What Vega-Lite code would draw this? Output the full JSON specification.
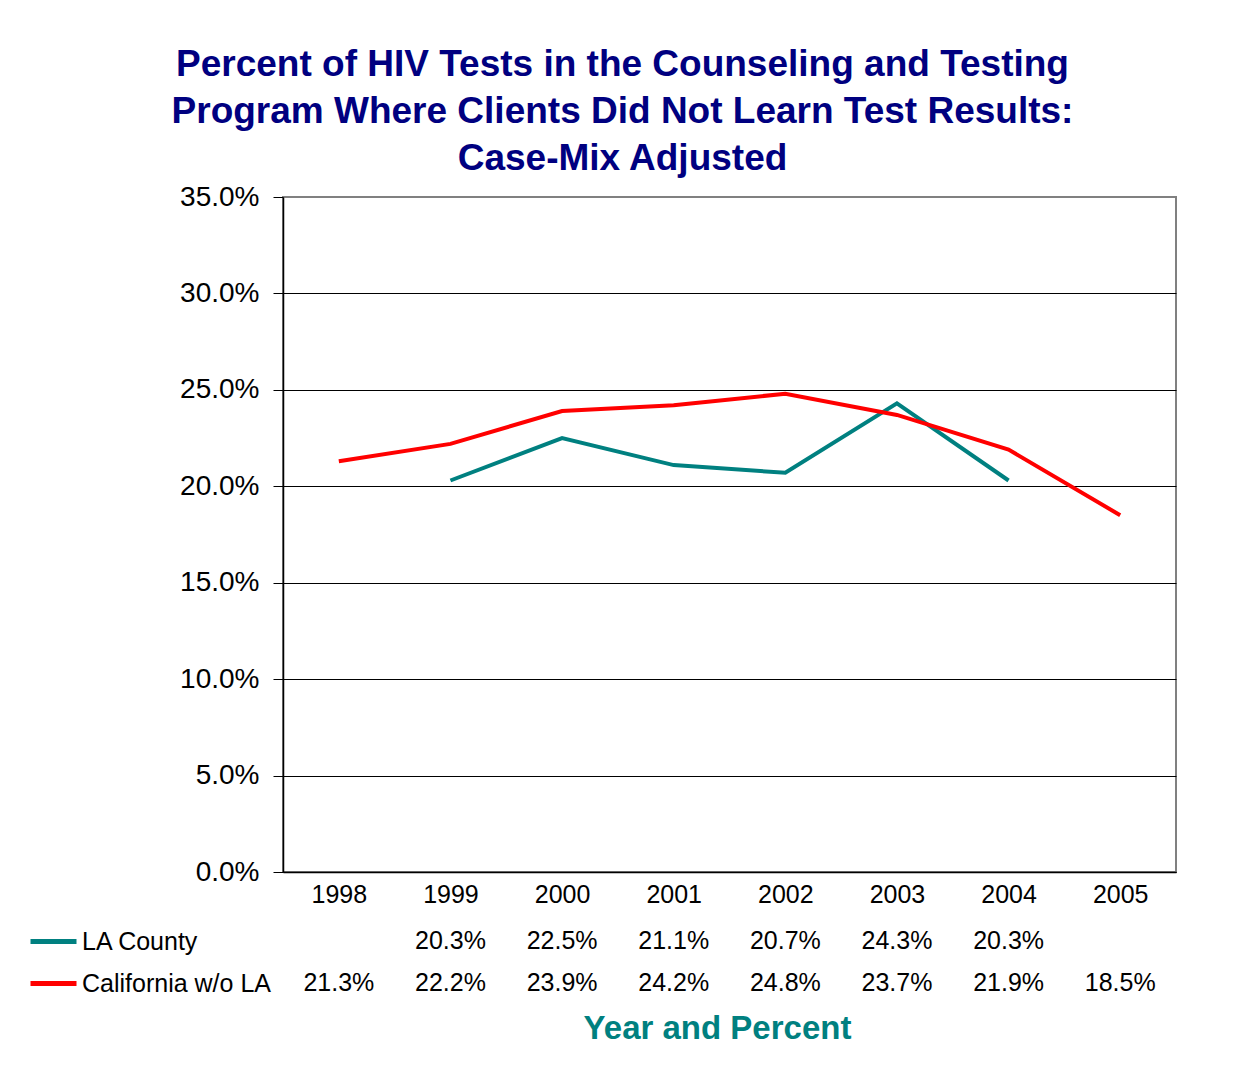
{
  "$schema": "https://vega.github.io/schema/vega-lite/v6.json",
  "width": 893,
  "height": 675,
  "autosize": {"type": "none"},
  "padding": {"left": 283, "top": 197, "right": 60, "bottom": 196},
  "background": "white",
  "config": {"font": "Liberation Sans", "view": {"stroke": "#808080", "strokeWidth": 2}},
  "title": {
    "text": ["Percent of HIV Tests in the Counseling and Testing", "Program Where Clients Did Not Learn Test Results:", "Case-Mix Adjusted"],
    "font": "Liberation Sans",
    "fontSize": 37,
    "fontWeight": "bold",
    "color": "#000080",
    "lineHeight": 47,
    "anchor": "middle",
    "dx": -107,
    "offset": 5
  },
  "data": {
    "values": [
      {"series": "LA County", "year": "1999", "value": 0.203},
      {"series": "LA County", "year": "2000", "value": 0.225},
      {"series": "LA County", "year": "2001", "value": 0.211},
      {"series": "LA County", "year": "2002", "value": 0.207},
      {"series": "LA County", "year": "2003", "value": 0.243},
      {"series": "LA County", "year": "2004", "value": 0.203},
      {"series": "California w/o LA", "year": "1998", "value": 0.213},
      {"series": "California w/o LA", "year": "1999", "value": 0.222},
      {"series": "California w/o LA", "year": "2000", "value": 0.239},
      {"series": "California w/o LA", "year": "2001", "value": 0.242},
      {"series": "California w/o LA", "year": "2002", "value": 0.248},
      {"series": "California w/o LA", "year": "2003", "value": 0.237},
      {"series": "California w/o LA", "year": "2004", "value": 0.219},
      {"series": "California w/o LA", "year": "2005", "value": 0.185}
    ]
  },
  "layer": [
    {
      "mark": {"type": "line", "strokeWidth": 4},
      "encoding": {
        "x": {
          "field": "year",
          "type": "ordinal",
          "scale": {"type": "point", "padding": 0.5},
          "axis": {
            "title": "Year and Percent",
            "labelAngle": 0,
            "labelFontSize": 25,
            "labelColor": "black",
            "labelPadding": 10,
            "ticks": false,
            "domainColor": "black",
            "domainWidth": 1.5,
            "grid": false,
            "titleFontSize": 33,
            "titleColor": "#008080",
            "titleFontWeight": "bold",
            "titlePadding": 105,
            "titleX": 434
          }
        },
        "y": {
          "field": "value",
          "type": "quantitative",
          "scale": {"domain": [0, 0.35], "nice": false},
          "axis": {
            "title": null,
            "values": [0, 0.05, 0.1, 0.15, 0.2, 0.25, 0.3, 0.35],
            "format": ".1%",
            "labelFontSize": 28,
            "labelColor": "black",
            "labelPadding": 14,
            "tickColor": "black",
            "tickSize": 10,
            "domainColor": "black",
            "domainWidth": 1.5,
            "grid": true,
            "gridColor": "black",
            "gridWidth": 1,
            "gridOpacity": {"condition": {"test": "datum.value >= 0.35", "value": 0}, "value": 1}
          }
        },
        "color": {
          "field": "series",
          "type": "nominal",
          "scale": {"domain": ["LA County", "California w/o LA"], "range": ["#008080", "#FF0000"]},
          "legend": {
            "orient": "none",
            "legendX": -255,
            "legendY": 719,
            "title": null,
            "symbolType": "stroke",
            "symbolSize": 2116,
            "symbolStrokeWidth": 5,
            "labelFontSize": 25,
            "labelColor": "black",
            "labelLimit": 400,
            "labelOffset": 3,
            "rowPadding": 3
          }
        }
      }
    },
    {
      "mark": {"type": "text", "fontSize": 25, "color": "black"},
      "encoding": {
        "x": {"field": "year", "type": "ordinal"},
        "y": {
          "field": "series",
          "type": "nominal",
          "scale": {"type": "point", "padding": 0, "domain": ["LA County", "California w/o LA"], "range": [744, 786]},
          "axis": null
        },
        "text": {"field": "value", "type": "quantitative", "format": ".1%"}
      }
    }
  ],
  "resolve": {"scale": {"y": "independent"}}
}
